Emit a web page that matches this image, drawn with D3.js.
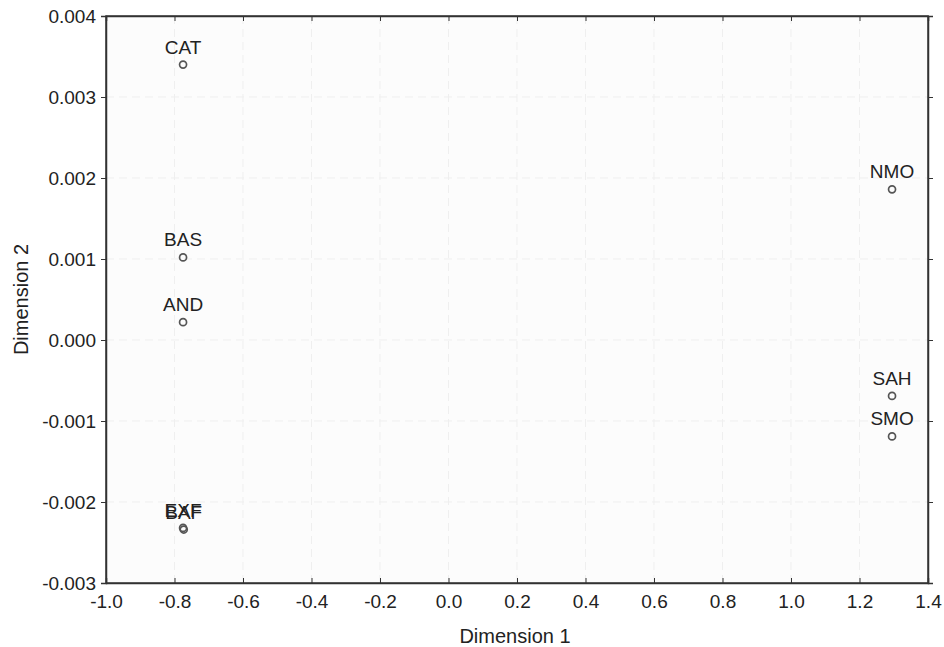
<!DOCTYPE html>
<html>
<head>
<meta charset="utf-8">
<script src="https://cdn.jsdelivr.net/npm/d3@7"></script>
<style>
  body { margin: 0; background: #fff; }
  text { font-family: "Liberation Sans", Arial, sans-serif; fill: #222; }
</style>
</head>
<body>
<svg id="chart" width="944" height="647"></svg>
<script>
const labels = ["CAT", "NMO", "BAS", "AND", "SAH", "SMO", "EXF", "BAF"];
const dim1 = [-0.775, 1.295, -0.775, -0.775, 1.295, 1.295, -0.775, -0.773];
const dim2 = [0.00340, 0.00186, 0.00102, 0.00022, -0.00069, -0.00119, -0.00232, -0.00234];
const xTicks = [-1.0, -0.8, -0.6, -0.4, -0.2, 0.0, 0.2, 0.4, 0.6, 0.8, 1.0, 1.2, 1.4];
const yTicks = [-0.003, -0.002, -0.001, 0.000, 0.001, 0.002, 0.003, 0.004];

const svg = d3.select("#chart");
const margin = { top: 16, right: 16, bottom: 64, left: 106 };
const width = 944 - margin.left - margin.right;
const height = 647 - margin.top - margin.bottom;

const g = svg.append("g").attr("transform", `translate(${margin.left},${margin.top})`);

const x = d3.scaleLinear().domain([-1.0, 1.4]).range([0, width]);
const y = d3.scaleLinear().domain([-0.003, 0.004]).range([height, 0]);

g.append("rect").attr("width", width).attr("height", height).attr("fill", "#fcfcfc");

// faint grid
g.selectAll(".vgrid").data(xTicks.slice(1, -1)).enter().append("line")
  .attr("x1", d => x(d)).attr("x2", d => x(d)).attr("y1", 0).attr("y2", height)
  .attr("stroke", "#efefef").attr("stroke-dasharray", "8,5");
g.selectAll(".hgrid").data(yTicks.slice(1, -1)).enter().append("line")
  .attr("y1", d => y(d)).attr("y2", d => y(d)).attr("x1", 0).attr("x2", width)
  .attr("stroke", "#efefef").attr("stroke-dasharray", "8,5");

const fmtX = v => d3.format(".1f")(v).replace("\u2212", "-");
const fmtY = v => d3.format(".3f")(v).replace("\u2212", "-");

g.append("g").attr("transform", `translate(0,${height})`)
  .call(d3.axisBottom(x).tickValues(xTicks).tickFormat(fmtX).tickSize(-5).tickPadding(12));
g.append("g")
  .call(d3.axisLeft(y).tickValues(yTicks).tickFormat(fmtY).tickSize(5).tickPadding(5));
g.append("g").call(d3.axisTop(x).tickValues(xTicks).tickFormat("").tickSize(-5));
g.append("g").attr("transform", `translate(${width},0)`)
  .call(d3.axisRight(y).tickValues(yTicks).tickFormat("").tickSize(5));

g.selectAll(".domain").attr("stroke", "#333").attr("stroke-width", 1.5);
g.selectAll(".tick line").attr("stroke", "#333");
g.selectAll(".tick text").attr("font-size", 19).attr("fill", "#222")
  .attr("font-family", "'Liberation Sans', Arial, sans-serif");

g.append("rect").attr("width", width).attr("height", height)
  .attr("fill", "none").attr("stroke", "#333").attr("stroke-width", 1.5);

const data = labels.map((d, i) => ({ label: d, d1: dim1[i], d2: dim2[i] }));

g.selectAll(".pt").data(data).enter().append("circle")
  .attr("cx", d => x(d.d1)).attr("cy", d => y(d.d2)).attr("r", 3.5)
  .attr("fill", "none").attr("stroke", "#555").attr("stroke-width", 1.7);

g.selectAll(".lbl").data(data).enter().append("text")
  .attr("x", d => x(d.d1)).attr("y", d => y(d.d2) - 11)
  .attr("text-anchor", "middle").attr("font-size", 19)
  .text(d => d.label);

svg.append("text").attr("x", margin.left + width / 2 - 2).attr("y", 643)
  .attr("text-anchor", "middle").attr("font-size", 20).text("Dimension 1");
svg.append("text")
  .attr("transform", `translate(28,${margin.top + height / 2}) rotate(-90)`)
  .attr("text-anchor", "middle").attr("font-size", 20).text("Dimension 2");
</script>
</body>
</html>
